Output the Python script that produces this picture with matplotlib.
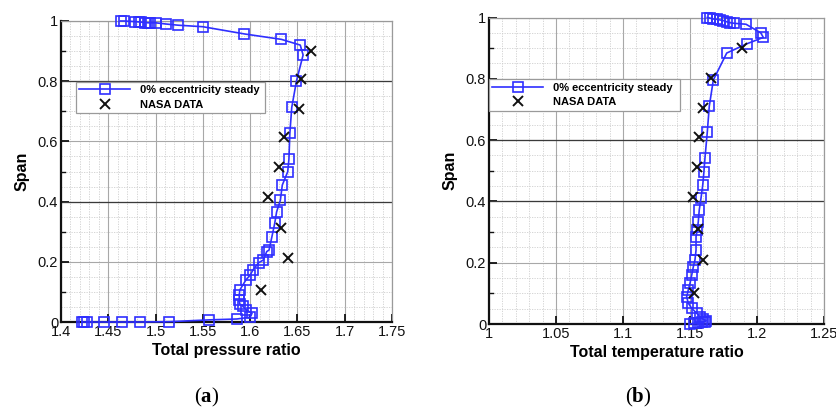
import matplotlib
matplotlib.use("Agg")
import matplotlib.pyplot as plt
from matplotlib.ticker import MultipleLocator, FixedLocator

plt.rcParams["font.family"] = ["Liberation Sans", "DejaVu Sans"]
plt.rcParams["mathtext.fontset"] = "custom"
plt.rcParams["mathtext.rm"] = "Liberation Serif"
plt.rcParams["mathtext.bf"] = "Liberation Serif:bold"

# ---- (a) total pressure ratio: CFD profile, hub to tip ----
pr_cfd = [1.422, 1.424, 1.428, 1.445, 1.464, 1.4835, 1.5145, 1.556, 1.586, 1.600,
          1.602, 1.596, 1.592, 1.589, 1.5885, 1.5885, 1.589, 1.5956, 1.600, 1.603,
          1.609, 1.614, 1.6175, 1.620, 1.623, 1.626, 1.628, 1.632, 1.634, 1.6397,
          1.641, 1.642, 1.644, 1.649, 1.656, 1.653, 1.633, 1.594, 1.550, 1.524,
          1.511, 1.500, 1.494, 1.492, 1.489, 1.485, 1.482, 1.478, 1.467, 1.463]
pr_span = [0.0, 0.0, 0.0, 0.0, 0.0, 0.0, 0.001, 0.007, 0.010, 0.016,
           0.029, 0.040, 0.053, 0.060, 0.073, 0.090, 0.106, 0.140, 0.156, 0.173,
           0.197, 0.206, 0.234, 0.239, 0.283, 0.328, 0.366, 0.405, 0.455, 0.499,
           0.541, 0.627, 0.713, 0.801, 0.887, 0.920, 0.939, 0.957, 0.981, 0.986,
           0.990, 0.994, 0.994, 0.994, 0.995, 0.996, 0.997, 0.998, 1.0, 1.0]
pr_nasa = [1.611, 1.640, 1.633, 1.619, 1.630, 1.636, 1.652, 1.654, 1.664]
pr_nasa_span = [0.106, 0.212, 0.311, 0.416, 0.514, 0.614, 0.707, 0.806, 0.901]

# ---- (b) total temperature ratio ----
tr_cfd = [1.150, 1.153, 1.156, 1.159, 1.161, 1.162, 1.160, 1.1575, 1.155, 1.1513,
          1.1487, 1.1475, 1.1487, 1.150, 1.1513, 1.1525, 1.1537, 1.1545, 1.1545, 1.1554,
          1.1562, 1.1569, 1.1582, 1.1595, 1.1604, 1.1612, 1.1629, 1.1644, 1.1674, 1.1774,
          1.1923, 1.2047, 1.2028, 1.1918, 1.1831, 1.1799, 1.1774, 1.1749, 1.1724, 1.1699,
          1.1674, 1.1649, 1.1629]
tr_span = [0.0, 0.002, 0.004, 0.006, 0.008, 0.011, 0.015, 0.024, 0.035, 0.051,
           0.068, 0.089, 0.111, 0.133, 0.160, 0.187, 0.209, 0.241, 0.285, 0.307,
           0.334, 0.372, 0.410, 0.4535, 0.497, 0.543, 0.626, 0.711, 0.796, 0.884,
           0.914, 0.935, 0.950, 0.978, 0.981, 0.983, 0.986, 0.990, 0.992, 0.994,
           0.995, 0.998, 1.0]
tr_nasa = [1.153, 1.1595, 1.156, 1.152, 1.155, 1.157, 1.160, 1.1657, 1.189]
tr_nasa_span = [0.102, 0.209, 0.309, 0.415, 0.513, 0.611, 0.704, 0.802, 0.902]

span_ticks = [0, 0.2, 0.4, 0.6, 0.8, 1.0]
span_labels = ["0", "0.2", "0.4", "0.6", "0.8", "1"]
pr_ticks = [1.4, 1.45, 1.5, 1.55, 1.6, 1.65, 1.7, 1.75]
pr_labels = ["1.4", "1.45", "1.5", "1.55", "1.6", "1.65", "1.7", "1.75"]
tr_ticks = [1.0, 1.05, 1.1, 1.15, 1.2, 1.25]
tr_labels = ["1", "1.05", "1.1", "1.15", "1.2", "1.25"]

series_labels = ["0% eccentricity steady", "NASA DATA"]
BLUE = "#2f2fff"

fig = plt.figure(figsize=(8.36, 4.12), dpi=100)
ax_a = fig.add_axes([61 / 836, 1 - 322 / 412, 331 / 836, 301 / 412])
ax_b = fig.add_axes([489 / 836, 1 - 324 / 412, 335 / 836, 306.5 / 412])


def style_axes(ax, xticks, xlabels, xlim, xlabel, dark_rows, legend_x, legend_w):
    ax.set_xlim(*xlim)
    ax.set_ylim(0, 1)
    ax.xaxis.set_major_locator(FixedLocator(xticks))
    ax.set_xticklabels(xlabels)
    ax.yaxis.set_major_locator(FixedLocator(span_ticks))
    ax.set_yticklabels(span_labels)
    ax.xaxis.set_minor_locator(MultipleLocator(0.01))
    ax.yaxis.set_minor_locator(MultipleLocator(0.05))
    ax.set_axisbelow(True)
    ax.grid(which="major", color="#a8a8a8", lw=0.8, ls="-")
    ax.grid(which="minor", color="#cfcfcf", lw=0.6, ls=(0, (1.5, 1.5)))
    for yv in dark_rows:
        ax.axhline(yv, color="#3a3a3a", lw=0.9, zorder=0.9)
    ax.tick_params(which="major", direction="in", length=6, width=1.3,
                   labelsize=10.5, pad=2, colors="#111111", top=False, right=False)
    ax.tick_params(which="minor", length=0, top=False, right=False)
    for yv in [0.1, 0.3, 0.5, 0.7, 0.9]:
        ax.plot([xlim[0], xlim[0] + (xlim[1] - xlim[0]) * 0.012], [yv, yv],
                color="#111111", lw=1.0, clip_on=False, zorder=3)
    for side in ["left", "bottom"]:
        ax.spines[side].set_color("#111111")
        ax.spines[side].set_linewidth(1.6)
    for side in ["top", "right"]:
        ax.spines[side].set_color("#9a9a9a")
        ax.spines[side].set_linewidth(0.9)
    ax.set_xlabel(xlabel, fontsize=11.5, fontweight="bold", labelpad=3)
    ax.set_ylabel("Span", fontsize=11.5, fontweight="bold", labelpad=6)
    leg = ax.legend(loc="upper left", bbox_to_anchor=(legend_x, 0.698, legend_w, 0.1),
                    mode="expand", prop={"weight": "bold", "size": 8},
                    handlelength=4.6, handletextpad=0.9, labelspacing=0.4,
                    borderpad=0.3, borderaxespad=0, fancybox=False,
                    framealpha=1, edgecolor="#9a9a9a")
    leg.get_frame().set_linewidth(0.9)


for ax, xs, ys, nx, ny in [(ax_a, pr_cfd, pr_span, pr_nasa, pr_nasa_span),
                           (ax_b, tr_cfd, tr_span, tr_nasa, tr_nasa_span)]:
    ax.plot(xs, ys, color=BLUE, lw=1.2, marker="s", ms=6.5, mfc="none",
            mec=BLUE, mew=1.2, label=series_labels[0], clip_on=False, zorder=4)
    ax.plot(nx, ny, ls="none", marker="x", ms=6.5, mew=1.4, color="#111111",
            label=series_labels[1], zorder=5)

style_axes(ax_a, pr_ticks, pr_labels, (1.4, 1.75), "Total pressure ratio",
           [0.4, 0.8], 0.045, 0.57)
style_axes(ax_b, tr_ticks, tr_labels, (1.0, 1.25), "Total temperature ratio",
           [0.4, 0.6], 0.0, 0.57)

fig.text(207 / 836, 1 - 397 / 412, r"($\mathbf{a}$)", fontsize=15,
         family="Liberation Serif", ha="center", va="center")
fig.text(638 / 836, 1 - 397 / 412, r"($\mathbf{b}$)", fontsize=15,
         family="Liberation Serif", ha="center", va="center")

fig.savefig("out.png", dpi=100)
